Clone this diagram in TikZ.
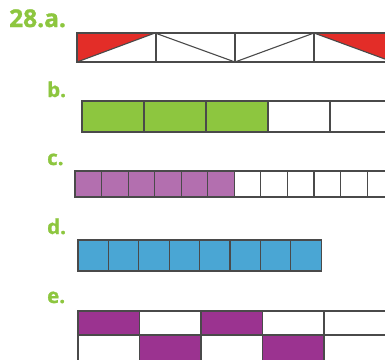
\documentclass[tikz,border=0pt]{standalone}
\usepackage{fontspec}
\setmainfont{Open Sans}
\newfontfamily\lblfont{Open Sans}[BoldFont={* Bold}, BoldFeatures={FakeBold=1.2}]
\definecolor{lblgreen}{HTML}{8DC63F}
\definecolor{redf}{HTML}{E32D28}
\definecolor{greenf}{HTML}{8DC63F}
\definecolor{purpc}{HTML}{B36FAF}
\definecolor{bluef}{HTML}{4AA6D4}
\definecolor{purpe}{HTML}{9B3390}
\definecolor{edge}{HTML}{4A4A4A}
\tikzset{
  lbl/.style={anchor=base west, inner sep=0pt, text=lblgreen, font=\lblfont\bfseries\fontsize{20.5}{20.5}\selectfont},
  cell/.style={draw=edge, line width=1.1pt},
}
\begin{document}
\begin{tikzpicture}[x=1pt,y=-1pt]
\useasboundingbox (0,0) rectangle (385,359);
\begin{scope}
\clip (0,0) rectangle (385,359);
% a
\node[lbl, font=\lblfont\bfseries\fontsize{24.5}{24.5}\selectfont] (la) at (9,27) {28.a.};
\fill[redf] (77,33) -- (155,33) -- (77,62) -- cycle;
\fill[redf] (314,33) -- (400,33) -- (400,62) -- (393,62) -- cycle;
\foreach \i in {0,...,3} {
  \draw[cell] ({77+\i*79},33) rectangle ({77+(\i+1)*79},62);
}
\draw[cell] (77,62) -- (155,33) -- (235,62) -- (314,33) -- (393,62);
% b
\node[lbl] (lb) at (47,97) {b.};
\foreach \i in {0,...,4} {
  \pgfmathsetmacro{\xa}{82+\i*62}
  \ifnum\i<3 \def\fc{greenf}\else\def\fc{white}\fi
  \draw[cell, fill=\fc] (\xa,101) rectangle (\xa+62,132);
}
% c
\node[lbl] (lc) at (47,165) {c.};
\foreach \i in {0,...,11} {
  \pgfmathsetmacro{\xa}{75+\i*26.55}
  \ifnum\i<6 \def\fc{purpc}\else\def\fc{white}\fi
  \draw[cell, fill=\fc] (\xa,171) rectangle (\xa+26.55,197);
}
% d
\node[lbl] (ld) at (47,234) {d.};
\foreach \i in {0,...,7} {
  \pgfmathsetmacro{\xa}{78+\i*30.4}
  \draw[cell, fill=bluef] (\xa,240) rectangle (\xa+30.4,271);
}
% e
\node[lbl] (le) at (47,303) {e.};
\foreach \i in {0,...,4} {
  \pgfmathsetmacro{\xa}{78+\i*61.5}
  \ifodd\i \def\fa{white}\def\fb{purpe}\else\def\fa{purpe}\def\fb{white}\fi
  \ifnum\i=4 \def\fa{white}\def\fb{white}\fi
  \draw[cell, fill=\fa] (\xa,311) rectangle (\xa+61.5,335);
  \draw[cell, fill=\fb] (\xa,335) rectangle (\xa+61.5,362);
}
\end{scope}
\end{tikzpicture}
\end{document}
